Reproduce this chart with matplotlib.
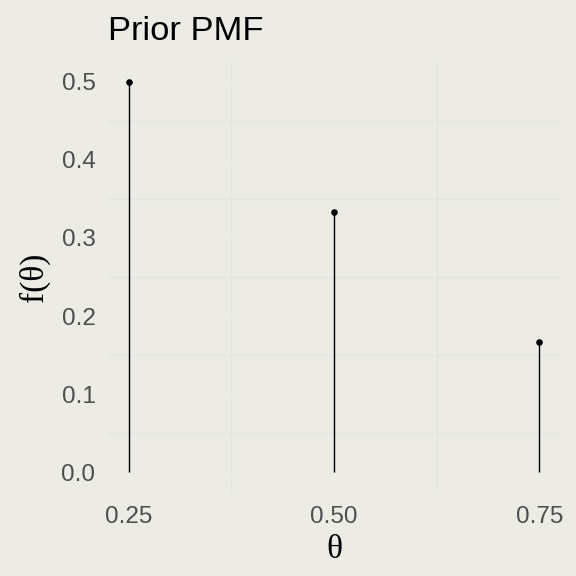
import matplotlib
matplotlib.use('Agg')
import matplotlib.pyplot as plt
import numpy as np

theta = [0.25, 0.50, 0.75]
prior = [3/6, 2/6, 1/6]
xticks = [0.25, 0.50, 0.75]
xticklabels = ['0.25', '0.50', '0.75']
yticks = [0.0, 0.1, 0.2, 0.3, 0.4, 0.5]

bg = '#ECECE5'
grid = '#E4E4E1'

fig = plt.figure(figsize=(5.76, 5.76), dpi=100, facecolor=bg)
ax = fig.add_axes([108/576, 1-492/576, (560-108)/576, (492-62)/576])
ax.set_facecolor(bg)

ax.vlines(theta, 0, prior, color='black', linewidth=1.0, zorder=3)
ax.scatter(theta, prior, s=14, color='black', zorder=4)

ax.set_xlim(0.225, 0.775)
ax.set_ylim(-0.025, 0.525)
ax.set_xticks(xticks)
ax.set_xticklabels(xticklabels)
ax.set_yticks(yticks)
ax.set_xticks([0.375, 0.625], minor=True)
ax.set_yticks([0.05, 0.15, 0.25, 0.35, 0.45], minor=True)
ax.grid(which='minor', color=grid, linewidth=1.0)
ax.grid(which='major', color=bg, linewidth=1.0)
ax.set_axisbelow(True)
for s in ax.spines.values():
    s.set_visible(False)
ax.tick_params(which='both', length=0)
ax.tick_params(axis='both', labelsize=17.5, labelcolor='#4D4D4D')
for lab in ax.get_xticklabels() + ax.get_yticklabels():
    lab.set_family('Liberation Sans')
ax.tick_params(axis='y', pad=9)
ax.tick_params(axis='x', pad=10)

ax.set_xlabel('θ', family='Liberation Serif', fontsize=24, labelpad=5)
ax.set_ylabel('f(θ)', family='Liberation Serif', fontsize=24, labelpad=8)
ax.set_title('Prior PMF', family='Liberation Sans', fontsize=24.8, loc='left', pad=16)

fig.savefig('out.png', dpi=100, facecolor=bg)
